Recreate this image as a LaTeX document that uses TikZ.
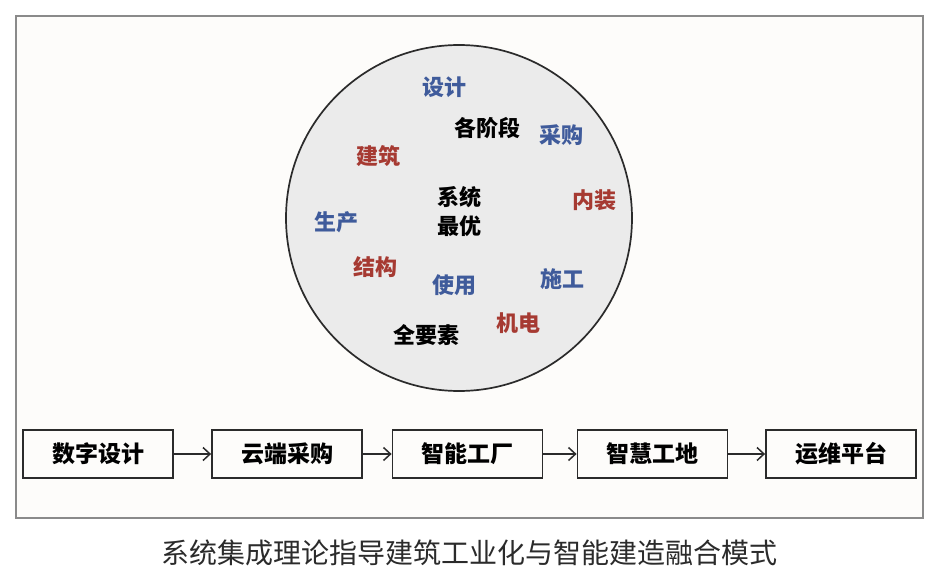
\documentclass[tikz,border=0pt]{standalone}
\usepackage{fontspec}
\newfontfamily\cjk{Noto Sans CJK SC}
\usetikzlibrary{arrows.meta}
\definecolor{tblue}{HTML}{3F5B9B}
\definecolor{tred}{HTML}{A63A32}
\definecolor{frame}{HTML}{8A8A8A}
\definecolor{paper}{HTML}{FDFCFA}
\definecolor{disc}{HTML}{EBEBEB}
\definecolor{ink}{HTML}{2B2B2B}
\tikzset{
  word/.style={font=\cjk\bfseries\fontsize{22}{26}\selectfont, inner sep=0pt},
  bw/.style={word, text=black},
  bl/.style={word, text=tblue},
  rd/.style={word, text=tred},
  stage/.style={draw=ink, line width=1.8pt, minimum width=150pt, minimum height=48pt, inner sep=0pt,
    font=\cjk\bfseries\fontsize{23}{26}\selectfont, text=black},
  flow/.style={draw=ink, line width=1.5pt, -{Straight Barb[length=7pt,width=13pt,line width=1.5pt]}},
}
\begin{document}
\begin{tikzpicture}[x=1pt,y=-1pt]
\useasboundingbox (0,0) rectangle (940,580);
\fill[white] (0,0) rectangle (940,580);
\draw[frame, fill=paper, line width=1.5pt] (16,16) rectangle (923,518);
\draw[ink, fill=disc, line width=1.7pt] (459,218) circle (173);
\node[bl] (sheji) at (444,87) {设计};
\node[bw] (jieduan) at (487,128) {各阶段};
\node[bl] (caigou) at (561,135) {采购};
\node[rd] (jianzhu) at (378,156) {建筑};
\node[bw] (xitong) at (459,197) {系统};
\node[bw] (zuiyou) at (459,226) {最优};
\node[rd] (neizhuang) at (594,200) {内装};
\node[bl] (shengchan) at (336,222) {生产};
\node[rd] (jiegou) at (375,267) {结构};
\node[bl] (shiyong) at (454,285) {使用};
\node[bl] (shigong) at (562,279) {施工};
\node[rd] (jidian) at (518,323) {机电};
\node[bw] (yaosu) at (426,335) {全要素};
\node[stage] (b1) at (98,454) {数字设计};
\node[stage] (b2) at (287,454) {云端采购};
\node[stage] (b3) at (467.5,454) {智能工厂};
\node[stage] (b4) at (652.5,454) {智慧工地};
\node[stage] (b5) at (841,454) {运维平台};
\draw[flow] (b1) -- (b2);
\draw[flow] (b2) -- (b3);
\draw[flow] (b3) -- (b4);
\draw[flow] (b4) -- (b5);
\node[font=\cjk\fontsize{28}{32}\selectfont, text=ink, inner sep=0pt] (cap) at (469,553) {系统集成理论指导建筑工业化与智能建造融合模式};
\end{tikzpicture}
\end{document}
